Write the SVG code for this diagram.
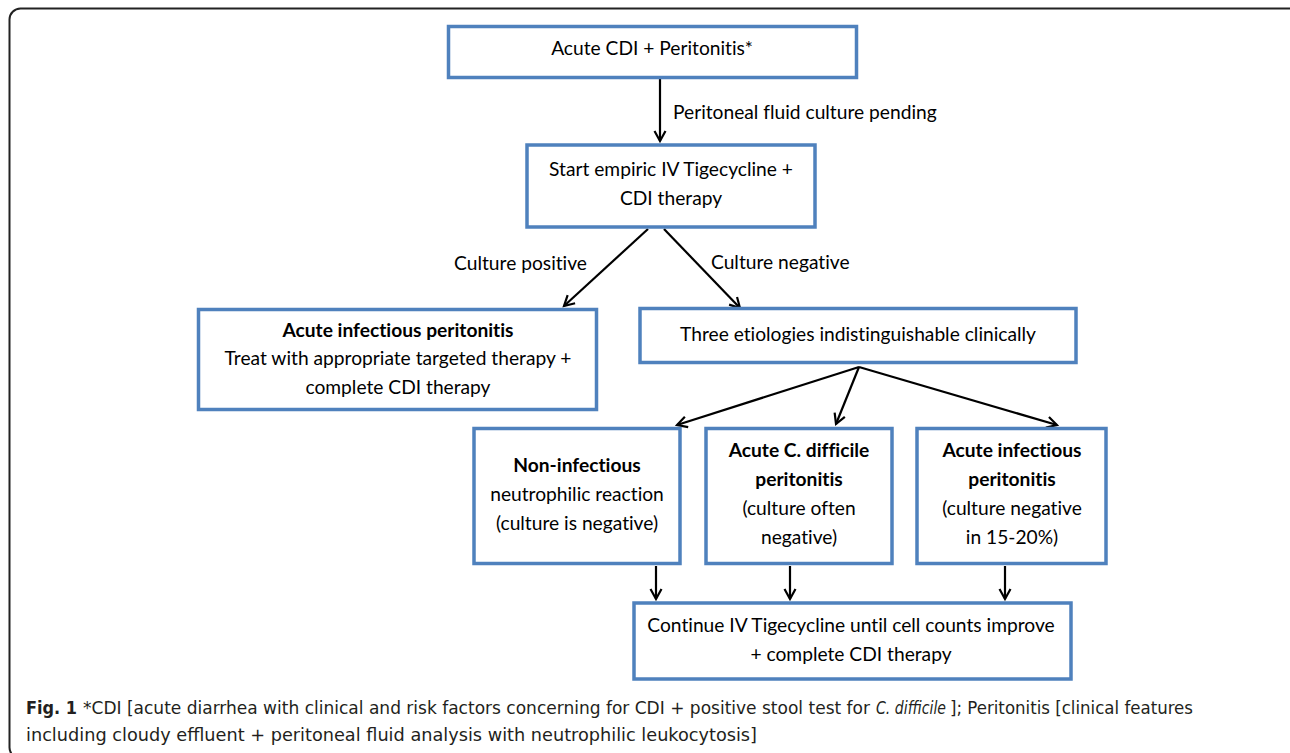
<svg xmlns="http://www.w3.org/2000/svg" width="1290" height="753" viewBox="0 0 1290 753">
<defs>
<style>
.box{fill:#ffffff;stroke:#4f81bd;stroke-width:3.5}
.t{font-family:Lato,"Liberation Sans",sans-serif;font-size:19.2px;fill:#000;text-anchor:middle;font-variant-ligatures:none}
.b{font-weight:bold}
.lbl{font-family:Lato,"Liberation Sans",sans-serif;font-size:19.2px;fill:#000;font-variant-ligatures:none}
.con{stroke:#000;stroke-width:2.2;fill:none}
.cap{font-family:"DejaVu Sans Condensed","Liberation Sans Narrow","Liberation Sans",sans-serif;font-size:17.5px;fill:#231f20}
</style>
<marker id="ah" markerWidth="14" markerHeight="14" refX="11" refY="6" orient="auto" markerUnits="userSpaceOnUse" viewBox="0 0 14 12">
<path d="M1,0.5 L11,6 L1,11.5" fill="none" stroke="#000" stroke-width="2.2"/>
</marker>
</defs>
<rect width="1290" height="753" fill="#fff"/>
<rect x="9.5" y="8.5" width="1290" height="750" rx="11" fill="none" stroke="#222" stroke-width="2"/>

<g id="connectors">
<line class="con" x1="660" y1="79" x2="660" y2="141" marker-end="url(#ah)"/>
<line class="con" x1="648" y1="229" x2="564" y2="306" marker-end="url(#ah)"/>
<line class="con" x1="664" y1="229" x2="740" y2="308" marker-end="url(#ah)"/>
<line class="con" x1="859" y1="367" x2="677" y2="425" marker-end="url(#ah)"/>
<line class="con" x1="859" y1="367" x2="836" y2="424" marker-end="url(#ah)"/>
<line class="con" x1="859" y1="367" x2="1057" y2="425" marker-end="url(#ah)"/>
<line class="con" x1="656" y1="566" x2="656" y2="599" marker-end="url(#ah)"/>
<line class="con" x1="790" y1="566" x2="790" y2="599" marker-end="url(#ah)"/>
<line class="con" x1="1005" y1="566" x2="1005" y2="599" marker-end="url(#ah)"/>
<text class="lbl" x="673" y="119">Peritoneal fluid culture pending</text>
<text class="lbl" x="587" y="270" text-anchor="end">Culture positive</text>
<text class="lbl" x="711" y="269">Culture negative</text>
</g>

<g id="n1">
<rect class="box" x="448.5" y="26.5" width="408" height="51"/>
<text class="t" x="652" y="55">Acute CDI + Peritonitis*</text>
</g>
<g id="n2">
<rect class="box" x="527" y="145" width="288" height="82"/>
<text class="t" x="671" y="176">Start empiric IV Tigecycline +</text>
<text class="t" x="671" y="205">CDI therapy</text>
</g>
<g id="n3">
<rect class="box" x="198.5" y="309.5" width="398" height="100"/>
<text class="t b" x="398" y="337">Acute infectious peritonitis</text>
<text class="t" x="398" y="365">Treat with appropriate targeted therapy +</text>
<text class="t" x="398" y="394">complete CDI therapy</text>
</g>
<g id="n4">
<rect class="box" x="640" y="308.5" width="436" height="54"/>
<text class="t" x="858" y="341">Three etiologies indistinguishable clinically</text>
</g>
<g id="n5">
<rect class="box" x="474" y="428.5" width="206" height="135"/>
<text class="t b" x="577" y="472">Non-infectious</text>
<text class="t" x="577" y="501">neutrophilic reaction</text>
<text class="t" x="577" y="530">(culture is negative)</text>
</g>
<g id="n6">
<rect class="box" x="706" y="428.5" width="186" height="135"/>
<text class="t b" x="799" y="457">Acute C. difficile</text>
<text class="t b" x="799" y="486">peritonitis</text>
<text class="t" x="799" y="515">(culture often</text>
<text class="t" x="799" y="544">negative)</text>
</g>
<g id="n7">
<rect class="box" x="917" y="428.5" width="189" height="135"/>
<text class="t b" x="1012" y="457">Acute infectious</text>
<text class="t b" x="1012" y="486">peritonitis</text>
<text class="t" x="1012" y="515">(culture negative</text>
<text class="t" x="1012" y="544">in 15-20%)</text>
</g>
<g id="n8">
<rect class="box" x="634" y="603" width="437" height="76"/>
<text class="t" x="851" y="632">Continue IV Tigecycline until cell counts improve</text>
<text class="t" x="851" y="661">+ complete CDI therapy</text>
</g>

<g id="caption">
<text class="cap" x="26" y="714" font-weight="bold" fill="#000" font-size="19" textLength="51" lengthAdjust="spacingAndGlyphs">Fig. 1</text>
<text class="cap" x="83" y="714" textLength="787" lengthAdjust="spacingAndGlyphs">*CDI [acute diarrhea with clinical and risk factors concerning for CDI + positive stool test for</text>
<text class="cap" x="876" y="714" font-style="italic" font-size="15.5" textLength="70" lengthAdjust="spacingAndGlyphs">C. difficile</text>
<text class="cap" x="950" y="714" textLength="243" lengthAdjust="spacingAndGlyphs">]; Peritonitis [clinical features</text>
<text class="cap" x="26" y="741" textLength="731" lengthAdjust="spacingAndGlyphs">including cloudy effluent + peritoneal fluid analysis with neutrophilic leukocytosis]</text>
</g>
</svg>
